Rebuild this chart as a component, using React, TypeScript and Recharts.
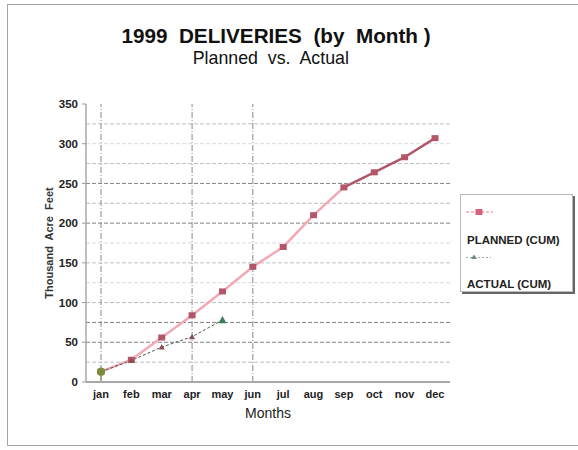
import React from 'react';
import { LineChart, Line, XAxis, YAxis, ReferenceLine, Legend, Label } from 'recharts';

const months = ['jan', 'feb', 'mar', 'apr', 'may', 'jun', 'jul', 'aug', 'sep', 'oct', 'nov', 'dec'];
const planned = [13, 28, 56, 84, 114, 145, 170, 210, 245, 264, 283, 307];
const actual: (number | null)[] = [13, 27, 44, 57, 78, null, null, null, null, null, null, null];
const yTicks = [0, 50, 100, 150, 200, 250, 300, 350];
const gridValues = [25, 50, 75, 100, 125, 150, 175, 200, 225, 250, 275, 300, 325];
const verticalGridMonths = ['jan', 'apr', 'jun'];
const seriesNames = ['PLANNED (CUM)', 'ACTUAL (CUM)'];

const data = months.map((m, i) => ({ month: m, planned: planned[i], actual: actual[i] }));

const FONT = '"Liberation Sans", Arial, sans-serif';
const PLANNED_DARK = '#b3566a';
const PLANNED_LIGHT = '#f2a9b4';
const ACTUAL_LINE = '#4d5a55';
const actualMarkerColors = ['#7b8a3c', '#8c4b55', '#8c4b55', '#8c4b55', '#3d7a5a'];

const gridStyle = (v: number) => {
  const dark = v === 50 || v === 75 || v === 200 || v === 250;
  const faint = v === 300 || v === 125 || v === 175;
  return {
    stroke: dark ? '#555' : '#888',
    opacity: faint ? 0.3 : dark ? 0.75 : 0.55,
  };
};

const PlannedDot = (props: any) => {
  const { cx, cy } = props;
  if (cx == null || cy == null) return null;
  return <rect x={cx - 3.5} y={cy - 3} width={7} height={6} fill={PLANNED_DARK} />;
};

const ActualDot = (props: any) => {
  const { cx, cy, index } = props;
  if (cx == null || cy == null) return null;
  const c = actualMarkerColors[index] || '#3d7a5a';
  if (index === 0) {
    return (
      <g>
        <line x1={cx} y1={cy} x2={cx} y2={cy + 9} stroke={c} strokeWidth={1} />
        <circle cx={cx} cy={cy} r={4.2} fill={c} />
      </g>
    );
  }
  const s = index === 4 ? 4 : 3;
  return <path d={`M${cx},${cy - s} L${cx + s},${cy + s * 0.8} L${cx - s},${cy + s * 0.8} Z`} fill={c} />;
};

const LegendContent = () => (
  <div
    style={{
      width: '100%',
      height: '100%',
      boxSizing: 'border-box',
      border: '1px solid #bbb',
      boxShadow: '2px 2px 0 #666',
      background: '#fff',
      position: 'relative',
      fontFamily: FONT,
    }}
  >
    <svg width={113} height={98} style={{ position: 'absolute', left: 0, top: 0 }}>
      <line x1={5} y1={17} x2={32} y2={17} stroke={PLANNED_LIGHT} strokeWidth={1.5} strokeDasharray="3 2" />
      <rect x={14.5} y={14} width={7} height={6} fill="#d8607a" />
      <line x1={5} y1={62.5} x2={30} y2={62.5} stroke="#9ab0a5" strokeWidth={1.2} strokeDasharray="2 2" />
      <path d="M13,59.5 L16,64 L10,64 Z" fill="#6f8f7c" />
      <text x={6} y={49} fontSize={11.5} fontWeight="bold" fill="#222" fontFamily={FONT}>
        {seriesNames[0]}
      </text>
      <text x={6} y={93} fontSize={11.5} fontWeight="bold" fill="#222" fontFamily={FONT}>
        {seriesNames[1]}
      </text>
    </svg>
  </div>
);

export default function App() {
  return (
    <div
      style={{
        position: 'absolute',
        left: 0,
        top: 0,
        width: 578,
        height: 450,
        overflow: 'hidden',
        background: '#fff',
        fontFamily: FONT,
      }}
    >
      <div
        style={{
          position: 'absolute',
          left: 7,
          top: 4,
          width: 600,
          height: 442,
          border: '1.5px solid #a5a5a5',
          boxSizing: 'border-box',
        }}
      />
      <div
        style={{
          position: 'absolute',
          left: 0,
          top: 25.8,
          width: 552,
          textAlign: 'center',
          fontSize: 20.7,
          lineHeight: '20.7px',
          fontWeight: 'bold',
          whiteSpace: 'pre',
          color: '#111',
        }}
      >
        {'1999  DELIVERIES  (by  Month )'}
      </div>
      <div
        style={{
          position: 'absolute',
          left: 0,
          top: 49.9,
          width: 541.6,
          textAlign: 'center',
          fontSize: 17.8,
          lineHeight: '17.8px',
          whiteSpace: 'pre',
          color: '#111',
        }}
      >
        {'Planned  vs.  Actual'}
      </div>
      <div style={{ position: 'absolute', left: 0, top: 0 }}>
        <LineChart
          width={578}
          height={450}
          data={data}
          margin={{ top: 104, right: 128, bottom: 32, left: 46 }}
        >
          <defs>
            <linearGradient id="plannedGrad" x1="0" y1="0" x2="1" y2="0">
              <stop offset="0" stopColor={PLANNED_LIGHT} />
              <stop offset="0.725" stopColor={PLANNED_LIGHT} />
              <stop offset="0.735" stopColor={PLANNED_DARK} />
              <stop offset="1" stopColor={PLANNED_DARK} />
            </linearGradient>
          </defs>
          <XAxis
            dataKey="month"
            padding={{ left: 15, right: 15 }}
            interval={0}
            height={36}
            tickLine={false}
            tickSize={4}
            tickMargin={4}
            axisLine={{ stroke: '#a8a8a8', strokeWidth: 2 }}
            tick={{ fontSize: 11, fontWeight: 'bold', fill: '#222', fontFamily: FONT }}
          >
            <Label
              value="Months"
              position="insideBottom"
              offset={0}
              style={{ fontSize: 14, fill: '#222', fontFamily: FONT }}
            />
          </XAxis>
          <XAxis
            xAxisId="top"
            orientation="top"
            dataKey="month"
            height={0}
            tick={false}
            tickLine={false}
            axisLine={{ stroke: '#c8c8c8', strokeWidth: 1.5 }}
          />
          <YAxis
            domain={[0, 350]}
            ticks={yTicks}
            width={40}
            interval={0}
            tickSize={4}
            tickMargin={4}
            axisLine={{ stroke: '#a8a8a8', strokeWidth: 1.5 }}
            tickLine={{ stroke: '#999' }}
            tick={{ fontSize: 11.5, fontWeight: 'bold', fill: '#222', fontFamily: FONT }}
          >
            <Label
              value="Thousand Acre Feet"
              angle={-90}
              position="insideLeft"
              offset={3}
              style={{ textAnchor: 'middle', fontSize: 11, fontWeight: 'bold', fill: '#333', fontFamily: FONT, wordSpacing: 3 }}
            />
          </YAxis>
          <YAxis
            yAxisId="right"
            orientation="right"
            domain={[0, 350]}
            width={0}
            tick={false}
            tickLine={false}
            axisLine={{ stroke: '#c0c0c0', strokeWidth: 2 }}
          />
          {gridValues.map((v) => (
            <ReferenceLine key={`h${v}`} y={v} strokeDasharray="4 2" strokeWidth={1} {...gridStyle(v)} />
          ))}
          {verticalGridMonths.map((m) => (
            <ReferenceLine key={`v${m}`} x={m} stroke="#888" strokeDasharray="6 2 1 2" strokeWidth={1} />
          ))}
          <Line
            type="linear"
            dataKey="planned"
            name={seriesNames[0]}
            stroke="url(#plannedGrad)"
            strokeWidth={2.5}
            dot={<PlannedDot />}
            activeDot={false}
            isAnimationActive={false}
          />
          <Line
            type="linear"
            dataKey="actual"
            name={seriesNames[1]}
            stroke={ACTUAL_LINE}
            strokeWidth={1}
            strokeDasharray="3 2"
            dot={<ActualDot />}
            activeDot={false}
            connectNulls={false}
            isAnimationActive={false}
          />
          <Legend
            layout="vertical"
            align="center"
            verticalAlign="middle"
            content={<LegendContent />}
            wrapperStyle={{ position: 'absolute', left: 460, top: 194, width: 113, height: 98 }}
          />
        </LineChart>
      </div>
    </div>
  );
}
